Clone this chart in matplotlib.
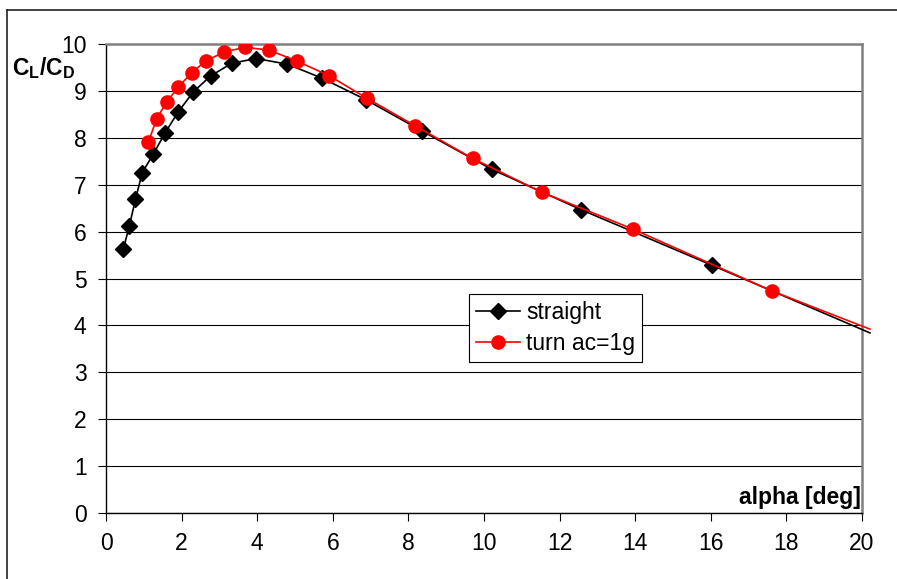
import matplotlib
matplotlib.use("Agg")
import matplotlib.pyplot as plt
from matplotlib.lines import Line2D

plt.rcParams['font.family'] = ['Liberation Sans', 'DejaVu Sans']
plt.rcParams['mathtext.fontset'] = 'custom'
plt.rcParams['mathtext.rm'] = 'Liberation Sans'
plt.rcParams['mathtext.bf'] = 'Liberation Sans:bold'

# straight flight (markers)
alpha_straight = [0.46, 0.62, 0.78, 0.96, 1.25, 1.56, 1.90, 2.31, 2.77, 3.33,
                  3.97, 4.80, 5.72, 6.88, 8.35, 10.20, 12.56, 16.04]
clcd_straight = [5.63, 6.13, 6.69, 7.26, 7.65, 8.10, 8.54, 8.98, 9.32, 9.59,
                 9.69, 9.57, 9.27, 8.81, 8.15, 7.33, 6.47, 5.28]
# turn ac=1g (markers)
alpha_turn = [1.12, 1.34, 1.61, 1.91, 2.27, 2.64, 3.13, 3.68, 4.31, 5.04,
              5.91, 6.91, 8.17, 9.70, 11.53, 13.95, 17.63]
clcd_turn = [7.90, 8.41, 8.77, 9.08, 9.39, 9.64, 9.83, 9.93, 9.87, 9.64,
             9.32, 8.84, 8.26, 7.56, 6.84, 6.05, 4.73]
# line continues a little past the axis end
alpha_end = 20.21
clcd_straight_end = 3.84
clcd_turn_end = 3.92

FS = 16.5

fig = plt.figure(figsize=(8.97, 5.79), dpi=100)
ax = fig.add_axes([106/897, 1 - 513/579, 756/897, 469/579])

ax.plot(alpha_straight + [alpha_end], clcd_straight + [clcd_straight_end],
        color='black', lw=1.2, clip_on=False, zorder=3)
ax.plot(alpha_straight, clcd_straight, ls='none', marker='D', ms=7.8,
        color='black', zorder=4)
ax.plot(alpha_turn + [alpha_end], clcd_turn + [clcd_turn_end],
        color='#ff0000', lw=1.2, clip_on=False, zorder=5)
ax.plot(alpha_turn, clcd_turn, ls='none', marker='o', ms=9.5,
        color='#ff0000', zorder=6)

ax.set_xlim(0, 20)
ax.set_ylim(0, 10)
ax.set_xticks(range(0, 21, 2))
ax.set_yticks(range(0, 11))
ax.tick_params(axis='both', direction='out', length=5.5, width=0.8,
               labelsize=FS, color='black')
ax.tick_params(axis='x', pad=8.5)
ax.tick_params(axis='y', pad=8.5)

ax.set_axisbelow(True)
ax.yaxis.grid(True, color='black', lw=0.8)
for s in ['left', 'bottom']:
    ax.spines[s].set_color('black')
    ax.spines[s].set_linewidth(1.0)
for s in ['top', 'right']:
    ax.spines[s].set_color('#808080')
    ax.spines[s].set_linewidth(1.8)

h1 = Line2D([], [], color='black', lw=1.2, marker='D', ms=7.8)
h2 = Line2D([], [], color='#ff0000', lw=1.2, marker='o', ms=9.5)
leg = ax.legend([h1, h2], ['straight', 'turn ac=1g'], loc='upper left',
                bbox_to_anchor=(0.480, 0.467), borderaxespad=0,
                fontsize=FS, fancybox=False, framealpha=1,
                edgecolor='black', handlelength=1.95, borderpad=0.3,
                labelspacing=0.35, handletextpad=0.25)
leg.get_frame().set_linewidth(0.8)
leg.set_zorder(10)

ax.text(0.998, 0.02, 'alpha [deg]', transform=ax.transAxes, ha='right',
        va='baseline', fontsize=FS, fontweight='bold')
fig.text(12/897, 1 - 75/579, r'$\mathbf{C_L/C_D}$', ha='left',
         va='baseline', fontsize=16.5)

# outer chart frame (cut off at the right and bottom)
fig.add_artist(Line2D([7/897, 7/897], [0, 1 - 10/579], color='#222222',
                      lw=1.2, transform=fig.transFigure))
fig.add_artist(Line2D([7/897, 1], [1 - 10/579, 1 - 10/579], color='#222222',
                      lw=1.2, transform=fig.transFigure))

fig.savefig('out.png', dpi=100)
